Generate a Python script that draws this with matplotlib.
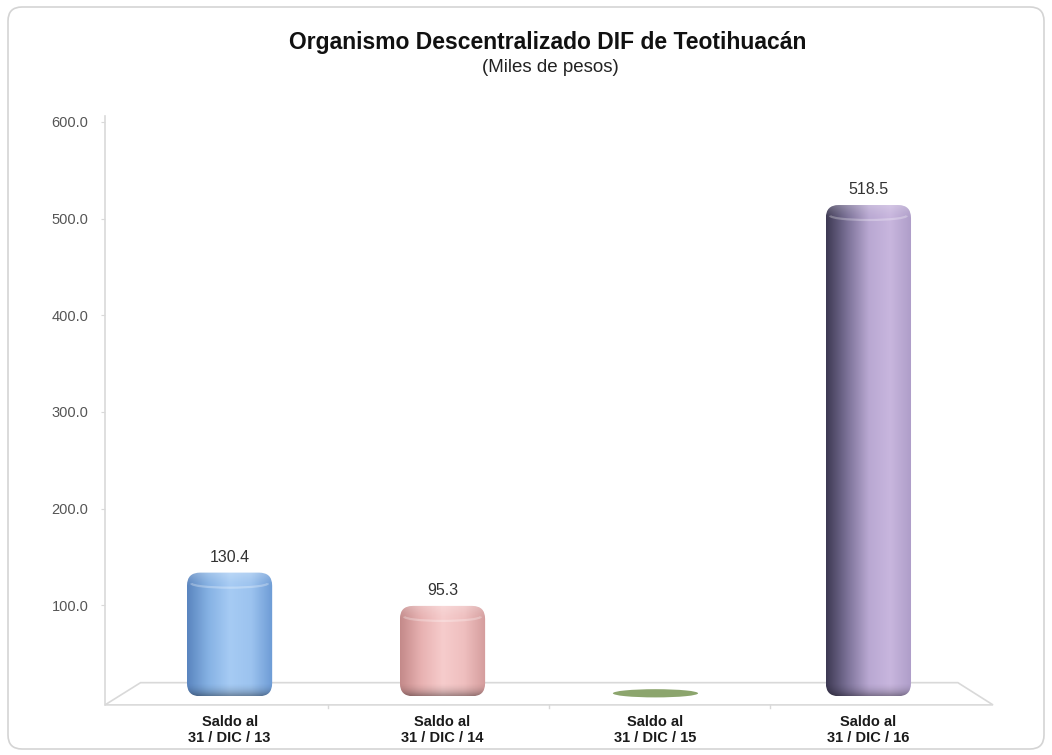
import numpy as np
import matplotlib
matplotlib.use('Agg')
import matplotlib.pyplot as plt
from matplotlib.patches import FancyBboxPatch, Ellipse, Polygon, Arc
from matplotlib.colors import LinearSegmentedColormap

plt.rcParams['font.family'] = ['Liberation Sans', 'DejaVu Sans']

categorias = ['Saldo al\n31 / DIC / 13', 'Saldo al\n31 / DIC / 14',
              'Saldo al\n31 / DIC / 15', 'Saldo al\n31 / DIC / 16']
valores = [130.4, 95.3, 0.0, 518.5]
etiquetas = ['130.4', '95.3', '', '518.5']
yticks = [100, 200, 300, 400, 500, 600]

# degradados para simular cilindros
gradientes = [
    ['#5a85bf', '#86b2e4', '#a6cbf4', '#9cc3ef', '#6d9bd5'],
    ['#c48a8a', '#e8b2b2', '#f6cccc', '#efbfbf', '#d49c9c'],
    ['#7f9c62', '#8fab70', '#9bb77c', '#8fab70', '#7f9c62'],
    ['#3d3953', '#7c7298', '#b9a8d2', '#c8b6de', '#ae9dc8'],
]

W, H = 1052, 755
fig = plt.figure(figsize=(W / 100, H / 100), dpi=100)

# marco redondeado
marco = FancyBboxPatch((8 / W, 6 / H), 1036 / W, 742 / H,
                       boxstyle='round,pad=0,rounding_size=%f' % (14 / W),
                       mutation_aspect=W / H, transform=fig.transFigure,
                       facecolor='none', edgecolor='#d4d4d4', lw=1.2, zorder=-1)
fig.patches.append(marco)

ax = fig.add_axes([105 / W, (H - 702) / H, 888 / W, 580 / H])
ax.set_facecolor('none')

px_x = 888 / 4.17          # pixeles por unidad x
px_y = 580 / 600           # pixeles por unidad y
aspecto = px_x / px_y

base = 6
escala = 0.98
ancho = 0.4

# piso en perspectiva
piso = Polygon([[-0.585, -3], [3.585, -3], [3.42, 20], [-0.418, 20]],
               closed=True, facecolor='none', edgecolor='#d9d9d9', lw=1.2,
               clip_on=False)
ax.add_patch(piso)
for xt in [0.46, 1.5, 2.54]:
    ax.plot([xt, xt], [-3, -6], color='#d9d9d9', lw=1, clip_on=False)

# perfiles verticales de sombra (base) y brillo (tapa)
n = 60
t = np.linspace(0, 1, n)
sombra_img = np.zeros((n, 1, 4))
sombra_img[:, 0, 3] = 0.35 * t ** 2          # fila 0 arriba -> oscuro abajo
brillo_img = np.ones((n, 1, 4))
brillo_img[:, 0, 3] = 0.25 * (1 - t) ** 1.5

for i, v in enumerate(valores):
    cmap = LinearSegmentedColormap.from_list('g%d' % i, gradientes[i])
    if v == 0:
        ax.add_patch(Ellipse((i, base + 3), ancho, 8.5, facecolor='#8ca56d',
                             edgecolor='none', clip_on=False, zorder=3))
        continue
    top = base + v * escala
    x0 = i - ancho / 2
    r = 13 / px_x
    caja = FancyBboxPatch((x0, base), ancho, top - base,
                          boxstyle='round,pad=0,rounding_size=%f' % r,
                          mutation_aspect=aspecto, transform=ax.transData,
                          facecolor='none', edgecolor='none')
    ax.add_patch(caja)
    grad = np.linspace(0, 1, 200).reshape(1, -1)
    im = ax.imshow(grad, cmap=cmap, extent=[x0, x0 + ancho, base, top],
                   aspect='auto', zorder=3, interpolation='bicubic')
    im.set_clip_path(caja)
    im2 = ax.imshow(sombra_img, extent=[x0, x0 + ancho, base, base + 14],
                    aspect='auto', zorder=4, interpolation='bilinear')
    im2.set_clip_path(caja)
    im3 = ax.imshow(brillo_img, extent=[x0, x0 + ancho, top - 16, top],
                    aspect='auto', zorder=4, interpolation='bilinear')
    im3.set_clip_path(caja)
    arco = Arc((i, top - 11), ancho * 0.9, 9, theta1=180, theta2=360,
               color='white', alpha=0.28, lw=1.6, zorder=5)
    ax.add_patch(arco)
    arco.set_clip_path(caja)
    ax.text(i, top + 16, etiquetas[i], ha='center', va='center',
            fontsize=11.5, color='#333333')

ax.set_xlim(-0.585, 3.585)
ax.set_ylim(0, 600)
ax.set_yticks(yticks)
ax.set_yticklabels(['%.1f' % t for t in yticks], fontsize=10.5, color='#555555')
ax.set_xticks(range(4))
ax.set_xticklabels(categorias, fontsize=10.5, fontweight='bold', color='#1a1a1a',
                   linespacing=1.25)
ax.tick_params(axis='x', length=0, pad=9)
ax.tick_params(axis='y', length=3, color='#d9d9d9', pad=9)
for s in ['top', 'right', 'bottom']:
    ax.spines[s].set_visible(False)
ax.spines['left'].set_color('#d9d9d9')
ax.spines['left'].set_linewidth(1.2)
ax.spines['left'].set_bounds(-3, 606)

fig.text(548 / W, 1 - 42 / H, 'Organismo Descentralizado DIF de Teotihuacán',
         ha='center', va='center', fontsize=16.5, fontweight='bold', color='#111111')
fig.text(550 / W, 1 - 67 / H, '(Miles de pesos)', ha='center', va='center',
         fontsize=13.5, color='#222222')

fig.savefig('out.png', dpi=100)
